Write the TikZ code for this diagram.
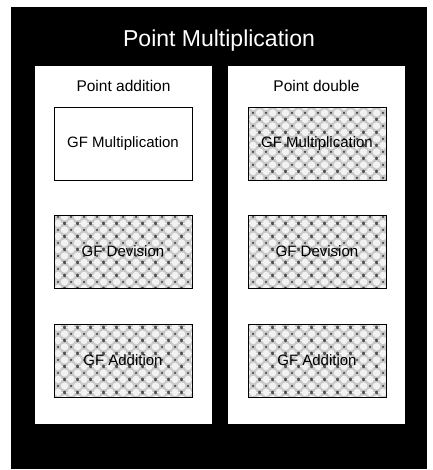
\documentclass[tikz,border=0pt]{standalone}
\usepackage{fontspec}
\setmainfont{Liberation Sans}
\usetikzlibrary{patterns}

\pgfdeclarepatterninherentlycolored{gfdots}{\pgfpointorigin}{\pgfqpoint{13pt}{13pt}}{\pgfqpoint{13pt}{13pt}}{
  \pgfsetfillcolor{gray!42}
  \pgfpathrectangle{\pgfpointorigin}{\pgfqpoint{13pt}{13pt}}
  \pgfusepath{fill}
  \pgfsetfillcolor{gray!10}
  \pgfpathcircle{\pgfqpoint{6.5pt}{0pt}}{3.6pt}
  \pgfpathcircle{\pgfqpoint{0pt}{6.5pt}}{3.6pt}
  \pgfpathcircle{\pgfqpoint{13pt}{6.5pt}}{3.6pt}
  \pgfpathcircle{\pgfqpoint{6.5pt}{13pt}}{3.6pt}
  \pgfusepath{fill}
  \pgfsetfillcolor{gray!55!black}
  \pgfpathcircle{\pgfqpoint{0pt}{0pt}}{1.3pt}
  \pgfpathcircle{\pgfqpoint{13pt}{0pt}}{1.3pt}
  \pgfpathcircle{\pgfqpoint{0pt}{13pt}}{1.3pt}
  \pgfpathcircle{\pgfqpoint{13pt}{13pt}}{1.3pt}
  \pgfpathcircle{\pgfqpoint{6.5pt}{6.5pt}}{1.3pt}
  \pgfusepath{fill}
}

\begin{document}
\begin{tikzpicture}[x=1pt,y=-1pt,
  gfbox/.style={draw, line width=1pt, minimum width=138pt, minimum height=73pt,
    inner sep=0pt, font=\fontsize{15}{18}\selectfont},
  hatched/.style={pattern=gfdots}]
\useasboundingbox (0,0) rectangle (432,470);
\fill [black] (11,7) rectangle (427,469);
\fill [white] (35,66) rectangle (212,424);
\fill [white] (228,66) rectangle (405,424);
\node (pm) [white, font=\fontsize{23}{28}\selectfont] at (219,41) {Point Multiplication};
\node (padd) [font=\fontsize{15.5}{18}\selectfont] at (123.5,86) {Point addition};
\node (pdbl) [font=\fontsize{15.5}{18}\selectfont] at (316.5,86) {Point double};
\node (amul) [gfbox, fill=white] at (123,144) {GF Multiplication};
\node (adiv) [gfbox, hatched] at (123,251.5) {GF Devision};
\node (aadd) [gfbox, hatched] at (123,360.5) {GF Addition};
\node (dmul) [gfbox, hatched] at (317,144) {GF Multiplication};
\node (ddiv) [gfbox, hatched] at (317,251.5) {GF Devision};
\node (dadd) [gfbox, hatched] at (317,360.5) {GF Addition};
\end{tikzpicture}
\end{document}
